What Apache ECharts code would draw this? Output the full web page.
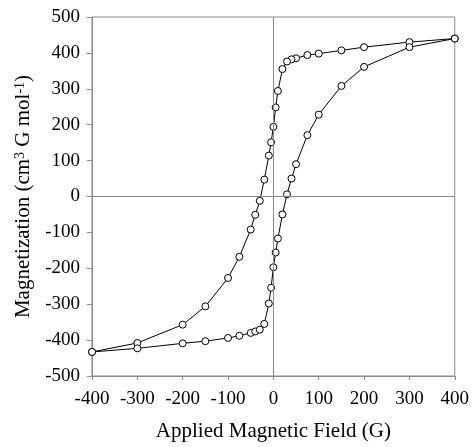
<!DOCTYPE html>
<html>
<head>
<meta charset="utf-8">
<script src="https://cdn.jsdelivr.net/npm/echarts@6/dist/echarts.min.js"></script>
<style>
  html, body { margin: 0; padding: 0; background: #fff; }
  #chart { width: 472px; height: 447px; }
</style>
</head>
<body>
<div id="chart"></div>
<script>
// branche descendante (de +400 G vers -400 G)
var descField = [400, 300, 200, 150, 100, 75, 50, 40, 30, 20, 10, 5, 0, -5, -10, -20, -30, -40, -50, -75, -100, -150, -200, -300, -400];
var descMag   = [440, 430, 416, 407, 398, 394, 385, 382, 376, 355, 294, 248, 194, 151, 114, 47, -12, -51, -92, -168, -227, -306, -357, -408, -433];

// branche montante (de -400 G vers +400 G)
var ascField = [-400, -300, -200, -150, -100, -75, -50, -40, -30, -20, -10, -5, 0, 5, 10, 20, 30, 40, 50, 75, 100, 150, 200, 300, 400];
var ascMag   = [-433, -423, -409, -403, -394, -388, -380, -376, -371, -355, -298, -254, -197, -156, -117, -50, 6, 50, 90, 171, 228, 308, 361, 416, 440];

var xTicks = [-400, -300, -200, -100, 0, 100, 200, 300, 400];
var yTicks = [-500, -400, -300, -200, -100, 0, 100, 200, 300, 400, 500];

var font = "'Liberation Serif', 'DejaVu Serif', serif";
var gray = '#8a8a8a';

function pairs(xs, ys) {
    return xs.map(function (x, i) { return [x, ys[i]]; });
}

var dom = document.getElementById('chart');
var myChart = echarts.init(dom, null, { renderer: 'canvas' });

var markerStyle = {
    color: '#fff',
    borderColor: '#000',
    borderWidth: 1
};

var option = {
    animation: false,
    grid: {
        left: 92,
        right: 14,
        top: 17,
        bottom: 67,
        show: true,
        borderColor: gray,
        borderWidth: 1
    },
    xAxis: {
        type: 'value',
        min: xTicks[0],
        max: xTicks[xTicks.length - 1],
        interval: 100,
        name: 'Applied Magnetic Field (G)',
        nameLocation: 'middle',
        nameGap: 45,
        nameTextStyle: { fontFamily: font, fontSize: 21, color: '#000' },
        axisLine: { onZero: false, lineStyle: { color: gray } },
        axisTick: { show: true, inside: false, length: 4, lineStyle: { color: gray } },
        axisLabel: { fontFamily: font, fontSize: 19, color: '#000', margin: 14 },
        splitLine: { show: false }
    },
    yAxis: {
        type: 'value',
        min: yTicks[0],
        max: yTicks[yTicks.length - 1],
        interval: 100,
        name: 'Magnetization (cm{sup|3} G mol{sup|-1})',
        nameLocation: 'middle',
        nameGap: 50,
        nameRotate: 90,
        nameTextStyle: {
            fontFamily: font,
            fontSize: 21,
            color: '#000',
            rich: {
                sup: { fontFamily: font, fontSize: 14, color: '#000', verticalAlign: 'top', padding: [0, 0, 7, 0] }
            }
        },
        axisLine: { onZero: false, lineStyle: { color: gray } },
        axisTick: { show: true, inside: false, length: 5, lineStyle: { color: gray } },
        axisLabel: { fontFamily: font, fontSize: 19, color: '#000', margin: 12 },
        splitLine: { show: false }
    },
    series: [
        {
            name: 'descendante',
            type: 'line',
            data: pairs(descField, descMag),
            symbol: 'circle',
            symbolSize: 7,
            itemStyle: markerStyle,
            lineStyle: { color: '#000', width: 1 },
            z: 3,
            // axes passant par zéro
            markLine: {
                silent: true,
                symbol: 'none',
                label: { show: false },
                lineStyle: { color: gray, width: 1, type: 'solid' },
                data: [{ xAxis: 0 }, { yAxis: 0 }]
            }
        },
        {
            name: 'montante',
            type: 'line',
            data: pairs(ascField, ascMag),
            symbol: 'circle',
            symbolSize: 7,
            itemStyle: markerStyle,
            lineStyle: { color: '#000', width: 1 },
            z: 3
        }
    ]
};

myChart.setOption(option);
window.addEventListener('resize', myChart.resize);
</script>
</body>
</html>
